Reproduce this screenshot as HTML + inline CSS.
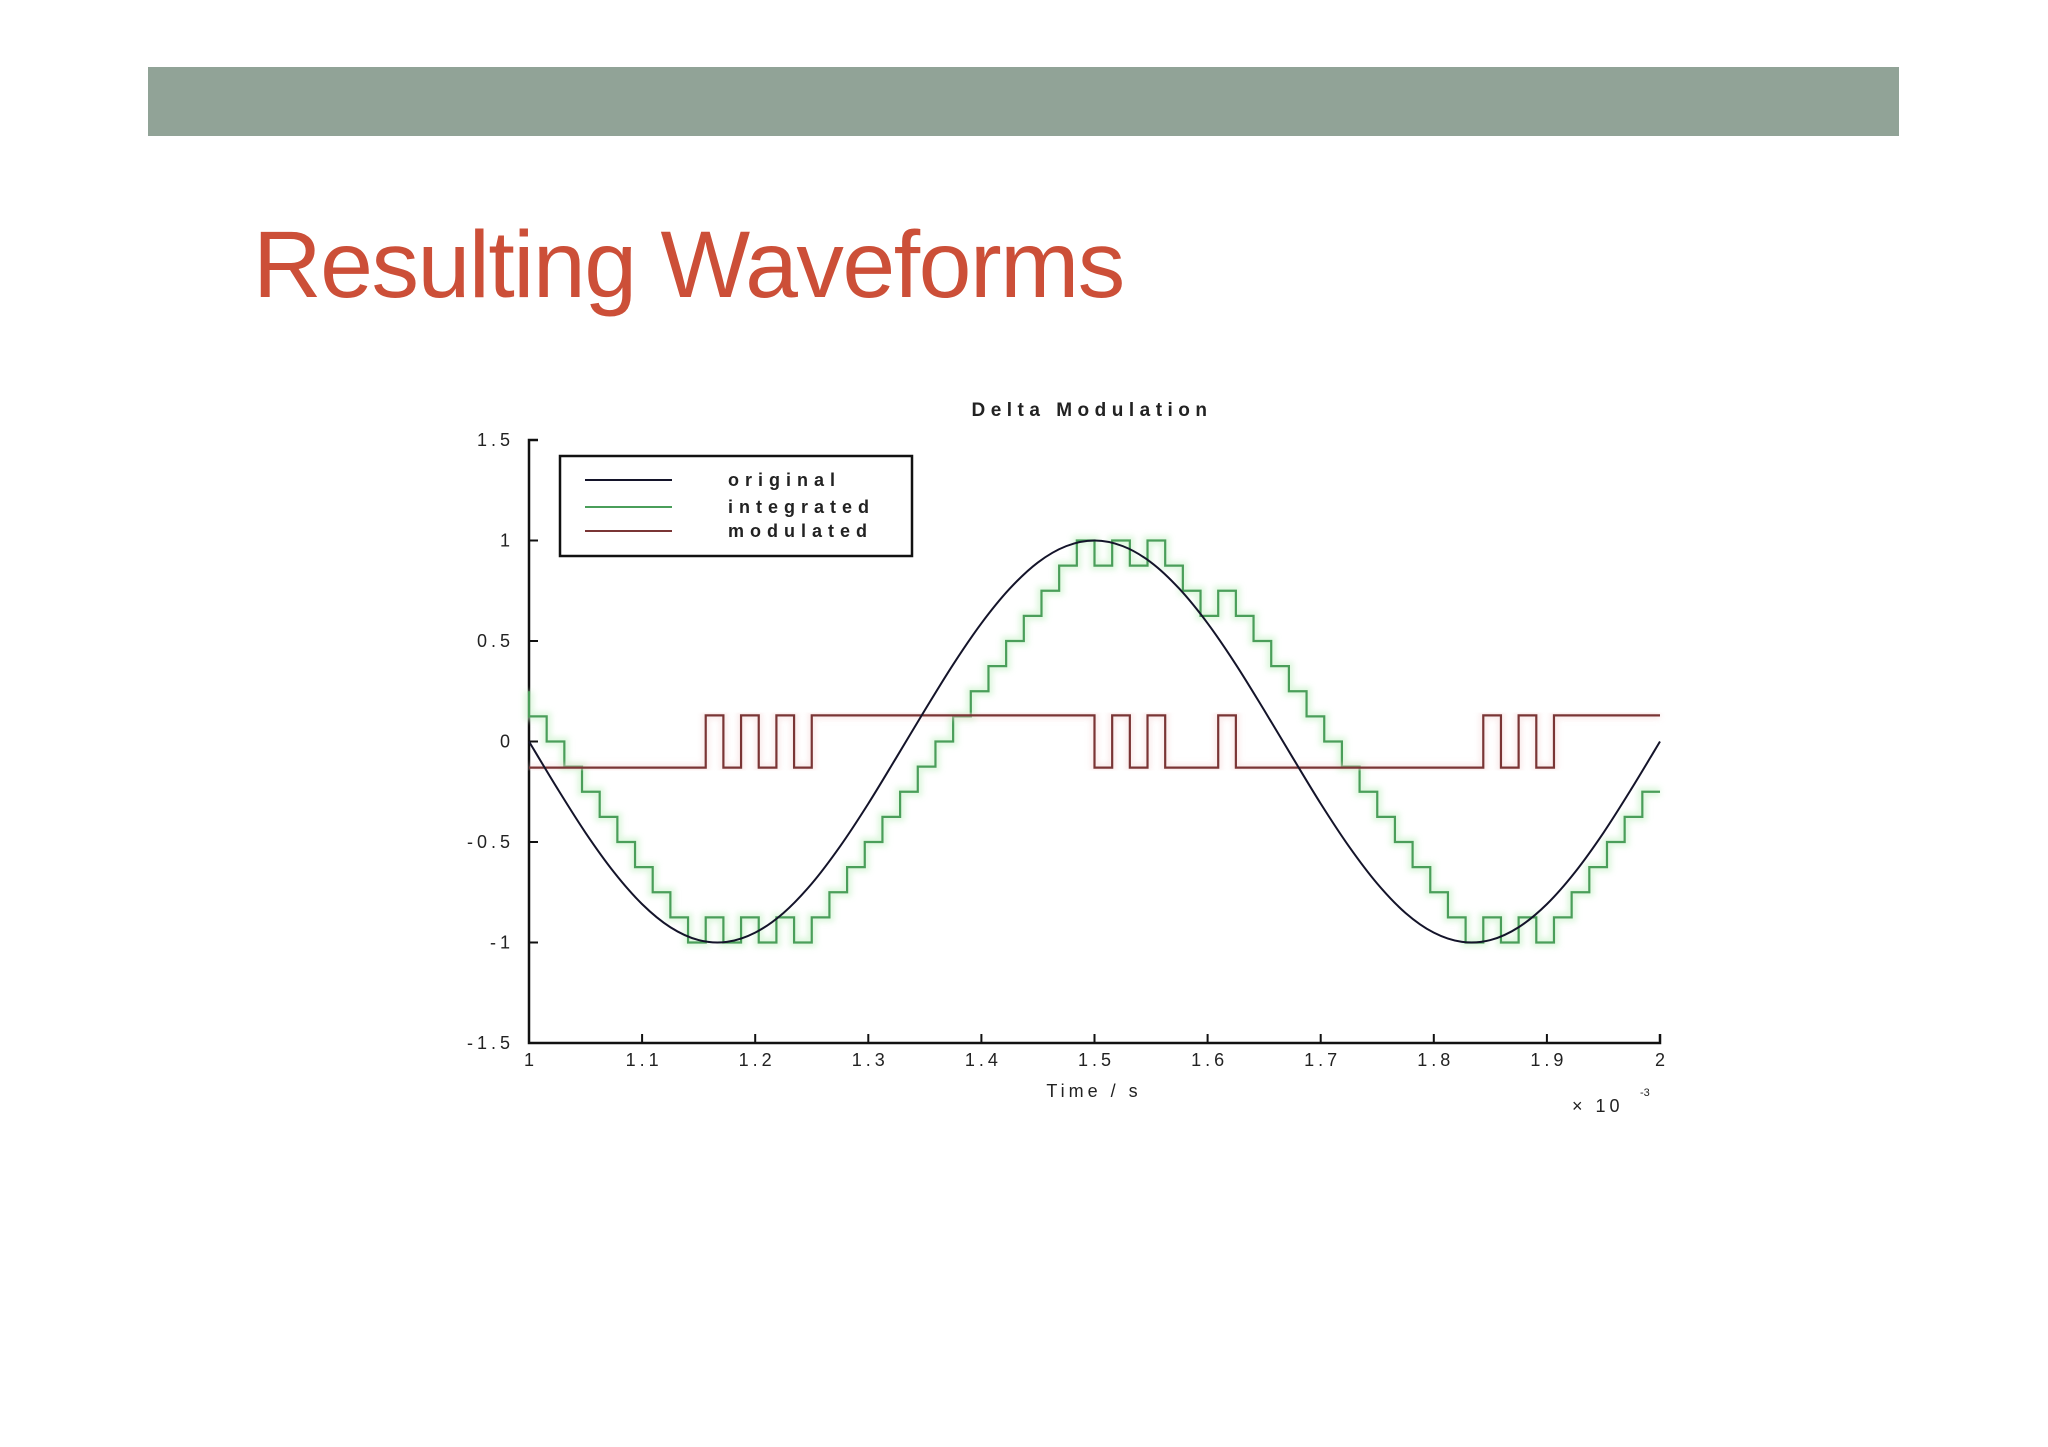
<!DOCTYPE html>
<html><head><meta charset="utf-8"><style>
html,body{margin:0;padding:0;background:#fff;}
body{width:2048px;height:1447px;position:relative;overflow:hidden;font-family:"Liberation Sans",sans-serif;}
#bar{position:absolute;left:148px;top:67px;width:1751px;height:69px;background:#91a397;}
#heading{position:absolute;left:253px;top:218px;font-size:95px;color:#cc4f38;letter-spacing:-1.5px;line-height:1;}
svg{position:absolute;left:0;top:0;}
</style></head><body>
<div id="bar"></div>
<div id="heading">Resulting Waveforms</div>
<svg id="chart" width="2048" height="1447">
<defs><filter id="glow" x="-5%" y="-5%" width="110%" height="110%"><feGaussianBlur stdDeviation="3"/></filter></defs>
</svg>
<script>
// data
const xTicks = [1,1.1,1.2,1.3,1.4,1.5,1.6,1.7,1.8,1.9,2];
const xTickLabels = ["1","1.1","1.2","1.3","1.4","1.5","1.6","1.7","1.8","1.9","2"];
const yTicks = [1.5,1,0.5,0,-0.5,-1,-1.5];
const yTickLabels = ["1.5","1","0.5","0","-0.5","-1","-1.5"];
const originalT0 = 1, originalDt = 0.025;
const originalValues = [0,-0.233,-0.454,-0.649,-0.809,-0.924,-0.988,-0.997,-0.951,-0.853,-0.707,-0.522,-0.309,-0.078,0.156,0.383,0.588,0.760,0.891,0.972,1,0.972,0.891,0.760,0.588,0.383,0.156,-0.078,-0.309,-0.522,-0.707,-0.853,-0.951,-0.997,-0.988,-0.924,-0.809,-0.649,-0.454,-0.233,0];
const sampleDt = 1/64;
const modulatedBits = [-1,-1,-1,-1,-1,-1,-1,-1,-1,-1, 1,-1,1,-1,1,-1, 1,1,1,1,1,1,1,1,1,1,1,1,1,1,1,1, -1,1,-1,1,-1,-1,-1,1, -1,-1,-1,-1,-1,-1,-1,-1,-1,-1,-1,-1,-1,-1, 1,-1,1,-1, 1,1,1,1,1,1];
const integratedStart = 0.25, stepSize = 0.125, modAmp = 0.13;

const NS="http://www.w3.org/2000/svg";
const svg=document.getElementById('chart');
const X0=529,X1=1660,Y0=440,Y1=1043;
const sx=t=>X0+(t-1)*(X1-X0);
const sy=v=>Y1-(v+1.5)/3*(Y1-Y0);
function mk(tag,attrs,parent){const e=document.createElementNS(NS,tag);for(const k in attrs)e.setAttribute(k,attrs[k]);(parent||svg).appendChild(e);return e;}
const font='"Liberation Sans",sans-serif';

// title
let e=mk('text',{x:1092,y:416,'text-anchor':'middle','font-size':19,'font-weight':'bold','letter-spacing':'5.5','font-family':font,fill:'#222'});


e.textContent='Delta Modulation';

// axes
e=mk('path',{d:`M${X0+9},${Y0}H${X0}V${Y1}H${X1}V${Y1-9}`,fill:'none',stroke:'#111','stroke-width':2.5});


yTicks.forEach((v,i)=>{
 const t=mk('line',{x1:X0,x2:X0+9,y1:sy(v),y2:sy(v),stroke:'#111','stroke-width':2});
 
 
 const l=mk('text',{x:514,y:sy(v)+6,'text-anchor':'end','font-size':18,'letter-spacing':'4','font-family':font,fill:'#222'});
 
 
 l.textContent=yTickLabels[i];
});
xTicks.forEach((v,i)=>{
 const t=mk('line',{x1:sx(v),x2:sx(v),y1:Y1,y2:Y1-9,stroke:'#111','stroke-width':2});
 
 
 const l=mk('text',{x:sx(v)+2,y:Y1+23,'text-anchor':'middle','font-size':18,'letter-spacing':'4','font-family':font,fill:'#222'});
 
 
 l.textContent=xTickLabels[i];
});
e=mk('text',{x:1094,y:1097,'text-anchor':'middle','font-size':18,'letter-spacing':'4','font-family':font,fill:'#222'});


e.textContent='Time / s';
e=mk('text',{x:1572,y:1112,'font-size':18,'letter-spacing':'4','font-family':font,fill:'#222'});


e.textContent='× 10';
e=mk('text',{x:1640,y:1096,'font-size':11,'font-family':font,fill:'#222'});


e.textContent='-3';

// integrated staircase
let lvl=integratedStart;
let gd=`M${sx(1)},${sy(lvl)}`;
modulatedBits.forEach((b,k)=>{lvl+=b*stepSize;const t=1+k*sampleDt;gd+=`V${sy(lvl)}H${sx(Math.min(2,t+sampleDt))}`;});
e=mk('path',{d:gd,fill:'none',stroke:'#c9f2c9','stroke-width':9,filter:'url(#glow)',opacity:0.6});


e=mk('path',{d:gd,fill:'none',stroke:'#4a9e5a','stroke-width':2.2});



// modulated
let md='';
modulatedBits.forEach((b,k)=>{const t=1+k*sampleDt;const y=sy(b*modAmp);md+=(k===0?`M${sx(t)},${y}`:`V${y}`)+`H${sx(t+sampleDt)}`;});
e=mk('path',{d:md,fill:'none',stroke:'#f5d5d5','stroke-width':7,filter:'url(#glow)',opacity:0.5});


e=mk('path',{d:md,fill:'none',stroke:'#7a3535','stroke-width':2.2});



// original (Catmull-Rom smooth)
const pts=originalValues.map((v,i)=>[sx(originalT0+i*originalDt),sy(v)]);
let od=`M${pts[0][0]},${pts[0][1]}`;
for(let i=0;i<pts.length-1;i++){const p0=pts[Math.max(0,i-1)],p1=pts[i],p2=pts[i+1],p3=pts[Math.min(pts.length-1,i+2)];
 od+=`C${p1[0]+(p2[0]-p0[0])/6},${p1[1]+(p2[1]-p0[1])/6} ${p2[0]-(p3[0]-p1[0])/6},${p2[1]-(p3[1]-p1[1])/6} ${p2[0]},${p2[1]}`;}
e=mk('path',{d:od,fill:'none',stroke:'#14142a','stroke-width':2});



// legend
const lg=mk('g',{});


mk('rect',{x:560,y:456,width:352,height:100,fill:'#fff',stroke:'#111','stroke-width':2.5},lg);
const legNames=['original','integrated','modulated'];
const legColors=['#14142a','#4a9e5a','#7a3535'];
const legY=[480,507,531];
legNames.forEach((n,i)=>{
 const ln=mk('line',{x1:585,x2:672,y1:legY[i],y2:legY[i],stroke:legColors[i],'stroke-width':2},lg);
 
 
 const t=mk('text',{x:728,y:legY[i]+6,'font-size':18,'font-weight':'bold','letter-spacing':'6','font-family':font,fill:'#222'},lg);
 
 
 t.textContent=n;
});
</script>
</body></html>
